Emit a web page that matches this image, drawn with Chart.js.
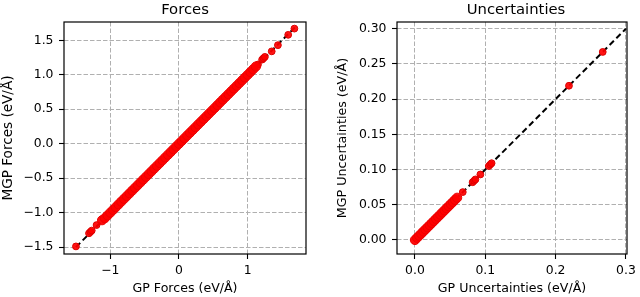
<!DOCTYPE html>
<html>
<head>
<meta charset="utf-8">
<script src="https://cdn.jsdelivr.net/npm/chart.js@4/dist/chart.umd.min.js"></script>
<style>
  html, body { margin: 0; padding: 0; background: #fff; }
  #wrap { position: relative; width: 640px; height: 297px; }
  canvas { position: absolute; top: 0; }
  #c1 { left: 0; }
  #c2 { left: 320px; }
</style>
</head>
<body>
<div id="wrap">
  <canvas id="c1" width="320" height="297"></canvas>
  <canvas id="c2" width="320" height="297"></canvas>
</div>
<script>
// ---------- Forces panel ----------
const forcesTitle = "Forces";
const forcesXLabel = "GP Forces (eV/Å)";
const forcesYLabel = "MGP Forces (eV/Å)";
const forcesXTicks = [-1, 0, 1];
const forcesYTicks = [-1.5, -1.0, -0.5, 0.0, 0.5, 1.0, 1.5];
// dense band of points along the diagonal
const forcesBandGP  = [-1.12,-1.08,-1.04,-1.00,-0.96,-0.92,-0.88,-0.84,-0.80,-0.76,-0.72,-0.68,-0.64,-0.60,-0.56,-0.52,-0.48,-0.44,-0.40,-0.36,-0.32,-0.28,-0.24,-0.20,-0.16,-0.12,-0.08,-0.04,0.00,0.04,0.08,0.12,0.16,0.20,0.24,0.28,0.32,0.36,0.40,0.44,0.48,0.52,0.56,0.60,0.64,0.68,0.72,0.76,0.80,0.84,0.88,0.92,0.96,1.00,1.04,1.08,1.12];
const forcesBandMGP = [-1.11,-1.08,-1.04,-1.00,-0.96,-0.92,-0.88,-0.84,-0.80,-0.76,-0.72,-0.68,-0.64,-0.60,-0.56,-0.52,-0.48,-0.44,-0.40,-0.36,-0.32,-0.28,-0.24,-0.20,-0.16,-0.12,-0.08,-0.04,0.00,0.04,0.08,0.12,0.16,0.20,0.24,0.28,0.32,0.36,0.40,0.44,0.48,0.52,0.56,0.60,0.64,0.68,0.72,0.76,0.80,0.84,0.88,0.92,0.96,1.00,1.04,1.08,1.12];
// isolated points at the ends
const forcesExtraGP  = [-1.50,-1.31,-1.29,-1.27,-1.20, 1.15, 1.21, 1.23, 1.25, 1.35, 1.44, 1.59, 1.68];
const forcesExtraMGP = [-1.49,-1.30,-1.28,-1.26,-1.18, 1.15, 1.22, 1.24, 1.26, 1.34, 1.43, 1.58, 1.67];
const forcesLine = [-1.50, 1.70];
const forcesXRange = [-1.674, 1.849];
const forcesYRange = [-1.60, 1.766];

// ---------- Uncertainties panel ----------
const uncTitle = "Uncertainties";
const uncXLabel = "GP Uncertainties (eV/Å)";
const uncYLabel = "MGP Uncertainties (eV/Å)";
const uncXTicks = [0.0, 0.1, 0.2, 0.3];
const uncYTicks = [0.00, 0.05, 0.10, 0.15, 0.20, 0.25, 0.30];
const uncBandGP  = [0.000,0.003,0.006,0.009,0.012,0.015,0.018,0.021,0.024,0.027,0.030,0.033,0.036,0.039,0.042,0.045,0.048,0.051,0.054,0.057,0.060];
const uncBandMGP = [0.000,0.003,0.006,0.009,0.012,0.015,0.018,0.021,0.024,0.027,0.030,0.033,0.036,0.039,0.042,0.045,0.048,0.051,0.054,0.057,0.060];
const uncExtraGP  = [0.068, 0.082, 0.084, 0.086, 0.093, 0.105, 0.107, 0.109, 0.219, 0.267];
const uncExtraMGP = [0.068, 0.082, 0.084, 0.086, 0.093, 0.105, 0.107, 0.109, 0.219, 0.267];
const uncLine = [0.00, 0.30];
const uncXRange = [-0.0255, 0.3015];
const uncYRange = [-0.0199, 0.3095];

const FONT = '"DejaVu Sans", "Liberation Sans", sans-serif';

function pts(xs, ys) { return xs.map((x, i) => ({ x: x, y: ys[i] })); }
function fmt(dec) {
  return v => Number(v).toFixed(dec).replace('-', '\u2212');
}

const framePlugin = {
  id: 'frameTitle',
  afterDraw(chart, args, opts) {
    const { ctx, chartArea: a } = chart;
    ctx.save();
    ctx.strokeStyle = '#000';
    ctx.lineWidth = 1.2;
    ctx.setLineDash([]);
    ctx.strokeRect(a.left, a.top, a.right - a.left, a.bottom - a.top);
    ctx.fillStyle = '#000';
    ctx.font = '14.8px ' + FONT;
    ctx.textAlign = 'center';
    ctx.textBaseline = 'alphabetic';
    ctx.fillText(opts.text, (a.left + a.right) / 2 + opts.dx, 13.5);
    ctx.restore();
  }
};

function makeChart(id, cfg) {
  const ds = [
    {
      type: 'scatter',
      data: pts(cfg.bandX, cfg.bandY),
      backgroundColor: 'rgba(255,0,0,0.95)',
      borderColor: 'rgba(235,0,0,1)',
      borderWidth: 1,
      pointRadius: 4.6,
      order: 1
    },
    {
      type: 'scatter',
      data: pts(cfg.extraX, cfg.extraY),
      backgroundColor: 'rgba(255,0,0,0.92)',
      borderColor: 'rgba(220,0,0,1)',
      borderWidth: 1,
      pointRadius: 3.4,
      order: 1
    },
    {
      type: 'line',
      data: pts(cfg.line, cfg.line),
      borderColor: '#000',
      borderWidth: 2,
      borderDash: [6, 3.5],
      pointRadius: 0,
      fill: false,
      order: 2
    }
  ];
  const tickFont = { family: FONT, size: 12.4 };
  return new Chart(document.getElementById(id), {
    data: { datasets: ds },
    options: {
      responsive: false,
      animation: false,
      devicePixelRatio: 1,
      layout: { padding: { left: 0, right: cfg.padRight, top: 22, bottom: 0 } },
      plugins: {
        legend: { display: false },
        tooltip: { enabled: false },
        frameTitle: { text: cfg.title, dx: cfg.titleDx }
      },
      scales: {
        x: {
          type: 'linear',
          position: 'bottom',
          min: cfg.xRange[0],
          max: cfg.xRange[1],
          afterBuildTicks: s => { s.ticks = cfg.xTicks.map(v => ({ value: v })); },
          afterFit: s => { s.height = 43; },
          ticks: { font: tickFont, color: '#000', padding: 4, maxRotation: 0, autoSkip: false, callback: fmt(cfg.xDec) },
          grid: { color: '#b0b0b0', lineWidth: 1, tickColor: '#000', tickLength: 5, tickWidth: 1.1, tickBorderDash: [] },
          border: { display: false, dash: [4.5, 2] },
          title: { display: true, text: cfg.xLabel, font: { family: FONT, size: 12.6 }, color: '#000', padding: { top: 0, bottom: 1.2 } }
        },
        y: {
          type: 'linear',
          position: 'left',
          min: cfg.yRange[0],
          max: cfg.yRange[1],
          afterBuildTicks: s => { s.ticks = cfg.yTicks.map(v => ({ value: v })); },
          afterFit: s => { s.width = cfg.yAxisWidth; },
          ticks: { font: tickFont, color: '#000', padding: 5.5, autoSkip: false, callback: fmt(cfg.yDec) },
          grid: { color: '#b0b0b0', lineWidth: 1, tickColor: '#000', tickLength: 5, tickWidth: 1.1, tickBorderDash: [] },
          border: { display: false, dash: [4.5, 2] },
          title: { display: true, text: cfg.yLabel, font: { family: FONT, size: cfg.yLabelSize }, color: '#000', padding: { top: cfg.yTitlePad, bottom: 0 } }
        }
      }
    },
    plugins: [framePlugin]
  });
}

makeChart('c1', {
  title: forcesTitle, xLabel: forcesXLabel, yLabel: forcesYLabel,
  xTicks: forcesXTicks, yTicks: forcesYTicks, xDec: 0, yDec: 1,
  bandX: forcesBandGP, bandY: forcesBandMGP, extraX: forcesExtraGP, extraY: forcesExtraMGP,
  line: forcesLine, xRange: forcesXRange, yRange: forcesYRange,
  padRight: 14, yAxisWidth: 64, yTitlePad: 0.3, yLabelSize: 13.6, titleDx: 0
});
makeChart('c2', {
  title: uncTitle, xLabel: uncXLabel, yLabel: uncYLabel,
  xTicks: uncXTicks, yTicks: uncYTicks, xDec: 1, yDec: 2,
  bandX: uncBandGP, bandY: uncBandMGP, extraX: uncExtraGP, extraY: uncExtraMGP,
  line: uncLine, xRange: uncXRange, yRange: uncYRange,
  padRight: 13, yAxisWidth: 77, yTitlePad: 15.4, yLabelSize: 12.7, titleDx: 4
});
</script>
</body>
</html>
